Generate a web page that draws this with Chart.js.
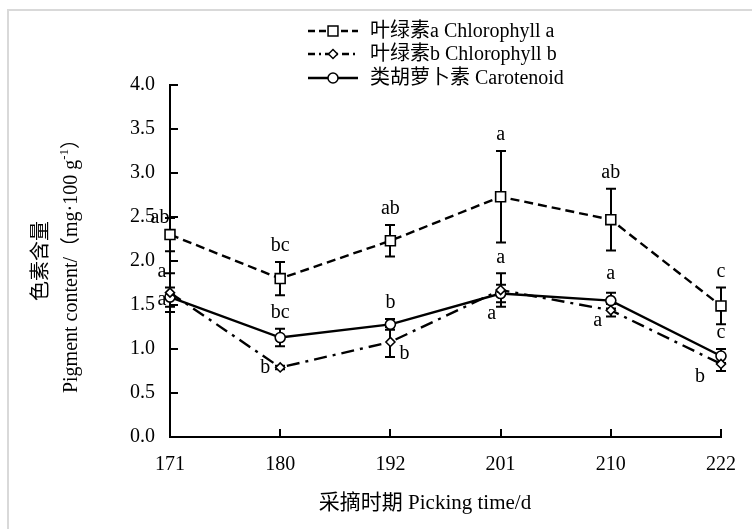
<!DOCTYPE html>
<html>
<head>
<meta charset="utf-8">
<script src="https://cdn.jsdelivr.net/npm/chart.js@4.4.1/dist/chart.umd.min.js"></script>
<style>
  html, body { margin: 0; padding: 0; background: #fff; }
  canvas { display: block; }
</style>
</head>
<body>
<canvas id="c" width="752" height="529"></canvas>
<script>
// Picking dates (days) and pigment contents, mg·100 g⁻¹, mean ± error
const pickingDays = ['171', '180', '192', '201', '210', '222'];

const chlA      = [2.30, 1.80, 2.23, 2.73, 2.47, 1.49];
const chlAErr   = [0.19, 0.19, 0.18, 0.52, 0.35, 0.21];
const chlB      = [1.64, 0.79, 1.08, 1.67, 1.44, 0.83];
const chlBErr   = [0.22, 0.02, 0.17, 0.19, 0.07, 0.08];
const carot     = [1.59, 1.13, 1.28, 1.63, 1.55, 0.92];
const carotErr  = [0.11, 0.10, 0.06, 0.10, 0.09, 0.08];

// Significance letters
const chlALetters  = ['ab', 'bc', 'ab', 'a', 'ab', 'c'];
const chlBLetters  = ['a', 'b', 'b', 'a', 'a', 'b'];
const carotLetters = ['a', 'bc', 'b', 'a', 'a', 'c'];

const yTickValues = [0, 0.5, 1.0, 1.5, 2.0, 2.5, 3.0, 3.5, 4.0];

const SERIF = '"Liberation Serif", "Noto Sans CJK SC", serif';
const FONT20 = '20px ' + SERIF;

// Where each letter sits: 'top' = above the upper error cap, 'pt' = offset from the point
const TOP = { ref: 'top', dx: 0, dy: -16 };
const chlAPlace  = [{ ref: 'pt', dx: -10, dy: -17 }, TOP, TOP, TOP, TOP, TOP];
const chlBPlace  = [{ ref: 'pt', dx: -8, dy: 7 }, { ref: 'pt', dx: -15, dy: 0 }, { ref: 'pt', dx: 14, dy: 12 },
                    TOP, { ref: 'pt', dx: -13, dy: 10 }, { ref: 'pt', dx: -21, dy: 13 }];
const carotPlace = [{ ref: 'pt', dx: -8, dy: -25 }, TOP, TOP, { ref: 'pt', dx: -9, dy: 20 },
                    { ref: 'top', dx: 0, dy: -19 }, TOP];

const seriesDefs = [
  { label: '叶绿素a Chlorophyll a', data: chlA, err: chlAErr, letters: chlALetters, place: chlAPlace,
    dash: [9, 5], style: 'rect', radius: 7 },
  { label: '叶绿素b Chlorophyll b', data: chlB, err: chlBErr, letters: chlBLetters, place: chlBPlace,
    dash: [13, 6, 3, 6], style: 'rectRot', radius: 4.5 },
  { label: '类胡萝卜素 Carotenoid', data: carot, err: carotErr, letters: carotLetters, place: carotPlace,
    dash: [], style: 'circle', radius: 5 }
];

const frameAndTitles = {
  id: 'frameAndTitles',
  beforeDraw(chart) {
    const ctx = chart.ctx;
    ctx.save();
    ctx.fillStyle = '#fff';
    ctx.fillRect(0, 0, chart.width, chart.height);
    ctx.strokeStyle = '#d9d9d9';
    ctx.lineWidth = 2;
    ctx.beginPath();
    ctx.moveTo(8, chart.height);
    ctx.lineTo(8, 10);
    ctx.lineTo(chart.width, 10);
    ctx.stroke();
    ctx.restore();
  },
  afterDraw(chart) {
    const ctx = chart.ctx;
    const area = chart.chartArea;
    ctx.save();
    ctx.fillStyle = '#000';
    ctx.textBaseline = 'middle';

    // x title
    ctx.font = '21px ' + SERIF;
    ctx.textAlign = 'center';
    ctx.fillText('采摘时期 Picking time/d', 425, 503);

    // y title, two rotated lines
    const cy = (area.top + area.bottom) / 2;
    ctx.font = FONT20;
    ctx.save();
    ctx.translate(42, cy);
    ctx.rotate(-Math.PI / 2);
    ctx.textAlign = 'center';
    ctx.fillText('色素含量', 0, 0);
    ctx.restore();

    ctx.save();
    ctx.translate(72, cy);
    ctx.rotate(-Math.PI / 2);
    ctx.textAlign = 'left';
    const p1 = 'Pigment content/（mg·100 g';
    const sup = '-1';
    const p2 = '）';
    ctx.font = FONT20;
    const w1 = ctx.measureText(p1).width;
    const w3 = ctx.measureText(p2).width;
    ctx.font = '13px ' + SERIF;
    const w2 = ctx.measureText(sup).width;
    const total = w1 + w2 + w3;
    let x = -total / 2;
    ctx.font = FONT20;
    ctx.fillText(p1, x, 0);
    x += w1;
    ctx.font = '13px ' + SERIF;
    ctx.fillText(sup, x, -7);
    x += w2;
    ctx.font = FONT20;
    ctx.fillText(p2, x, 0);
    ctx.restore();

    // inward tick marks
    const xs = chart.scales.x, ys = chart.scales.y;
    ctx.strokeStyle = '#000';
    ctx.lineWidth = 2;
    ctx.beginPath();
    yTickValues.forEach(v => {
      const py = Math.round(ys.getPixelForValue(v));
      ctx.moveTo(area.left, py);
      ctx.lineTo(area.left + 8, py);
    });
    pickingDays.forEach((d, i) => {
      if (i === 0) return;
      const px = Math.round(xs.getPixelForValue(i));
      ctx.moveTo(px, area.bottom);
      ctx.lineTo(px, area.bottom - 8);
    });
    ctx.stroke();

    // legend
    const legendY = [31, 54, 78];
    seriesDefs.forEach((s, i) => {
      const y = legendY[i];
      ctx.save();
      ctx.strokeStyle = '#000';
      ctx.lineWidth = 2.4;
      ctx.setLineDash(s.dash.length ? [7, 4, 7, 4].slice(0, 2).concat(s.dash.length > 2 ? [2, 4] : []) : []);
      ctx.beginPath();
      ctx.moveTo(308, y);
      ctx.lineTo(358, y);
      ctx.stroke();
      ctx.restore();
      ctx.save();
      ctx.lineWidth = 1.5;
      ctx.strokeStyle = '#000';
      ctx.fillStyle = '#fff';
      Chart.helpers.drawPoint(ctx, { pointStyle: s.style, radius: s.radius, borderWidth: 1.5, rotation: 0 }, 333, y);
      ctx.restore();
      ctx.font = FONT20;
      ctx.textAlign = 'left';
      ctx.fillStyle = '#000';
      ctx.fillText(s.label, 370, y + 1);
    });

    // significance letters
    chart.data.datasets.forEach((ds, i) => {
      const meta = chart.getDatasetMeta(i);
      const s = seriesDefs[i];
      meta.data.forEach((pt, j) => {
        const pl = s.place[j];
        let bx = pt.x, by = pt.y;
        if (pl.ref === 'top') by = ys.getPixelForValue(s.data[j] + s.err[j]);
        ctx.font = FONT20;
        ctx.textAlign = 'center';
        ctx.fillStyle = '#000';
        ctx.fillText(s.letters[j], bx + pl.dx, by + pl.dy);
      });
    });
    ctx.restore();
  }
};

const errorBars = {
  id: 'errorBars',
  beforeDatasetsDraw(chart) {
    const ctx = chart.ctx;
    const ys = chart.scales.y;
    ctx.save();
    ctx.strokeStyle = '#000';
    ctx.lineWidth = 2;
    chart.data.datasets.forEach((ds, i) => {
      const meta = chart.getDatasetMeta(i);
      const s = seriesDefs[i];
      meta.data.forEach((pt, j) => {
        const yt = ys.getPixelForValue(s.data[j] + s.err[j]);
        const yb = ys.getPixelForValue(s.data[j] - s.err[j]);
        const x = Math.round(pt.x);
        ctx.beginPath();
        ctx.moveTo(x, yt); ctx.lineTo(x, yb);
        ctx.moveTo(x - 5, yt); ctx.lineTo(x + 5, yt);
        ctx.moveTo(x - 5, yb); ctx.lineTo(x + 5, yb);
        ctx.stroke();
      });
    });
    ctx.restore();
  }
};

new Chart(document.getElementById('c'), {
  type: 'line',
  data: {
    labels: pickingDays,
    datasets: seriesDefs.map(s => ({
      label: s.label,
      data: s.data,
      borderColor: '#000',
      borderWidth: 2.4,
      borderDash: s.dash,
      pointStyle: s.style,
      pointRadius: s.radius,
      pointBackgroundColor: '#fff',
      pointBorderColor: '#000',
      pointBorderWidth: 1.6,
      tension: 0,
      fill: false,
      clip: false
    }))
  },
  options: {
    responsive: false,
    animation: false,
    layout: { padding: { top: 85, right: 22, left: 0, bottom: 0 } },
    plugins: { legend: { display: false }, tooltip: { enabled: false } },
    scales: {
      x: {
        type: 'category',
        offset: false,
        grid: { display: true, drawOnChartArea: false, drawTicks: false },
        border: { display: true, color: '#000', width: 2 },
        ticks: { color: '#000', font: { family: SERIF, size: 20 }, padding: 16, maxRotation: 0 },
        afterFit(scale) { scale.height = 92; }
      },
      y: {
        min: 0, max: 4,
        grid: { display: true, drawOnChartArea: false, drawTicks: false },
        border: { display: true, color: '#000', width: 2 },
        ticks: {
          stepSize: 0.5, color: '#000', font: { family: SERIF, size: 20 }, padding: 15,
          callback: v => Number(v).toFixed(1)
        },
        afterFit(scale) { scale.width = 170; }
      }
    }
  },
  plugins: [frameAndTitles, errorBars]
});
</script>
</body>
</html>
